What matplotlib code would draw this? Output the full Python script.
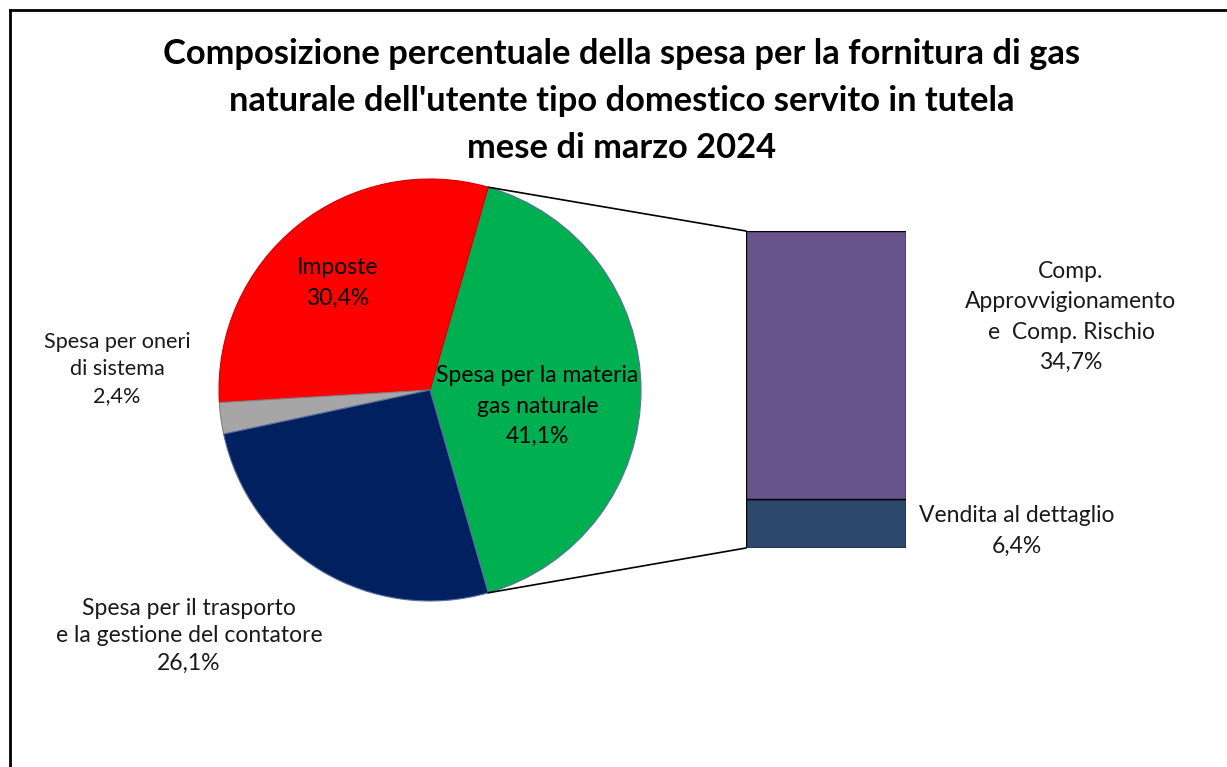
import matplotlib.pyplot as plt
from matplotlib.patches import ConnectionPatch
import numpy as np

W, H = 1227, 767

# pie data (counterclockwise from the right)
pie_names = ["Spesa per la materia\ngas naturale", "Imposte",
             "Spesa per oneri\ndi sistema",
             "Spesa per il trasporto\ne la gestione del contatore"]
pie_values = [41.1, 30.4, 2.4, 26.1]
pie_colors = ["#00B050", "#FF0000", "#A6A6A6", "#002060"]

# bar of pie: breakdown of the gas slice (bottom to top)
bar_names = ["Vendita al dettaglio", "Comp.\nApprovvigionamento\ne  Comp. Rischio"]
bar_values = [6.4, 34.7]
bar_colors = ["#2C486C", "#68548A"]

title = ("Composizione percentuale della spesa per la fornitura di gas\n"
         "naturale dell'utente tipo domestico servito in tutela\n"
         "mese di marzo 2024")

plt.rcParams['font.family'] = ['Lato', 'DejaVu Sans']


def fmt(v):
    return f"{v:.1f}%".replace('.', ',')


def px(x, y):
    return x / W, 1 - y / H


def box(x0, y0, x1, y1):
    return [x0 / W, 1 - y1 / H, (x1 - x0) / W, (y1 - y0) / H]


fig = plt.figure(figsize=(W / 100, H / 100), dpi=100)

# frame (left and top only, the rest is cut off)
fig.add_artist(plt.Line2D([px(10, 0)[0], px(10, 0)[0]], [0, px(0, 10)[1]], color='black', lw=2))
fig.add_artist(plt.Line2D([px(10, 0)[0], 1], [px(0, 10)[1], px(0, 10)[1]], color='black', lw=2))

fig.text(*px(622, 101), title, ha='center', va='center', fontsize=24.8,
         fontweight='bold', linespacing=1.58)

# pie
ax = fig.add_axes(box(219, 179, 641, 601))
start = -pie_values[0] / 100 * 360 / 2
wedges, _ = ax.pie(pie_values, colors=pie_colors, startangle=start, radius=1,
                   wedgeprops=dict(linewidth=0.8, edgecolor='#5a6fa0'))
wedges[1].set_edgecolor('#d00000')
wedges[2].set_edgecolor('#808080')
ax.set_xlim(-1, 1)
ax.set_ylim(-1, 1)
ax.set_aspect('equal')
ax.axis('off')

lab_fs = 16.5
ls = 1.55
ax.text(0.51, -0.076, f"{pie_names[0]}\n{fmt(pie_values[0])}", ha='center', va='center',
        fontsize=lab_fs, linespacing=ls)
ax.text(-0.44, 0.507, f"{pie_names[1]}\n{fmt(pie_values[1])}", ha='center', va='center',
        fontsize=lab_fs, linespacing=ls)
fig.text(*px(117, 369), f"{pie_names[2]}\n{fmt(pie_values[2])}", ha='center', va='center',
         fontsize=15.6, linespacing=1.46, color='#1a1a1a')
fig.text(*px(189, 636), f"{pie_names[3]}\n{fmt(pie_values[3])}", ha='center', va='center',
         fontsize=lab_fs, linespacing=1.38, color='#1a1a1a')

# bar
bx = fig.add_axes(box(746, 231, 906, 548))
bottom = 0
for v, c in zip(bar_values, bar_colors):
    bx.bar(0, v, bottom=bottom, width=1, color=c, edgecolor='black', linewidth=1)
    bottom += v
bx.set_xlim(-0.5, 0.5)
bx.set_ylim(0, sum(bar_values))
bx.axis('off')

fig.text(*px(1017, 531), f"{bar_names[0]}\n{fmt(bar_values[0])}", ha='center', va='center',
         fontsize=lab_fs, linespacing=ls, color='#1a1a1a')
fig.text(*px(1071, 317), f"{bar_names[1]}\n{fmt(bar_values[1])}", ha='center', va='center',
         fontsize=lab_fs, linespacing=1.53, color='#1a1a1a')

# connector lines from the gas slice to the bar
w = wedges[0]
for ang, yb in [(w.theta2, sum(bar_values)), (w.theta1, 0)]:
    p = (np.cos(np.radians(ang)), np.sin(np.radians(ang)))
    con = ConnectionPatch(xyA=p, coordsA=ax.transData, xyB=(-0.5, yb), coordsB=bx.transData,
                          color='black', lw=1.2)
    fig.add_artist(con)

fig.savefig("out.png", dpi=100)
